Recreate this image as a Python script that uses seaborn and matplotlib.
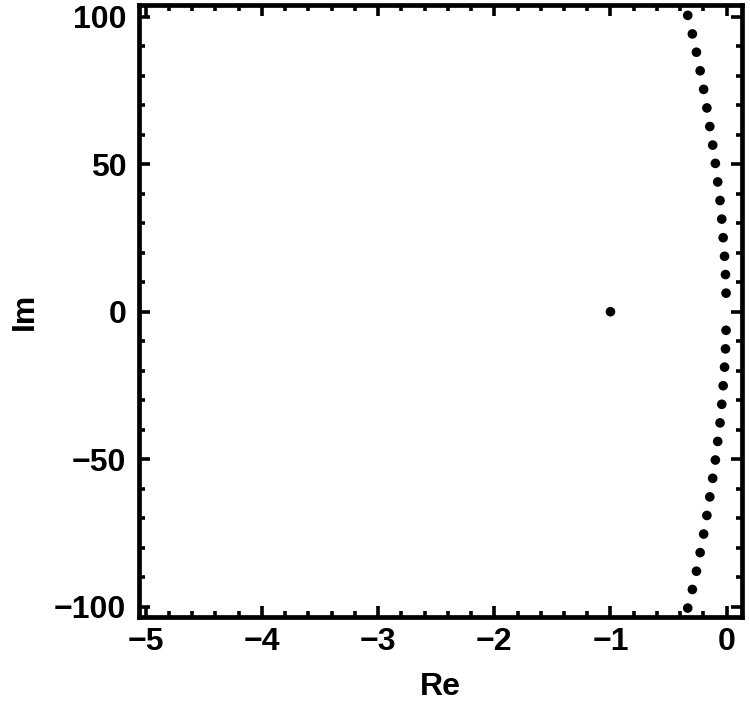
import matplotlib
matplotlib.use("Agg")
import matplotlib.pyplot as plt
import seaborn as sns
import pandas as pd
from matplotlib.ticker import MultipleLocator

sns.set_theme(style="white")
plt.rcParams['font.family'] = ['Liberation Sans', 'DejaVu Sans']
plt.rcParams['font.weight'] = 'bold'
plt.rcParams['text.color'] = 'black'
plt.rcParams['axes.labelcolor'] = 'black'
plt.rcParams['xtick.color'] = 'black'
plt.rcParams['ytick.color'] = 'black'

# Upper branch (Im > 0)
im_upper = [6.3, 12.6, 18.8, 25.1, 31.4, 37.7, 44.0, 50.3, 56.5, 62.8, 69.1, 75.4, 81.7, 88.0, 94.2, 100.5]
re_upper = [-0.005, -0.010, -0.018, -0.030, -0.042, -0.057, -0.077, -0.097, -0.120, -0.145, -0.170, -0.198, -0.228, -0.260, -0.295, -0.335]
# Lower branch (mirror)
im_lower = [-6.3, -12.6, -18.8, -25.1, -31.4, -37.7, -44.0, -50.3, -56.5, -62.8, -69.1, -75.4, -81.7, -88.0, -94.2, -100.5]
re_lower = [-0.005, -0.010, -0.018, -0.030, -0.042, -0.057, -0.077, -0.097, -0.120, -0.145, -0.170, -0.198, -0.228, -0.260, -0.295, -0.335]
# Isolated real point
re_single = [-1.0]
im_single = [0.0]

df = pd.DataFrame({
    "Re": re_upper + re_lower + re_single,
    "Im": im_upper + im_lower + im_single,
})

fig = plt.figure(figsize=(7.5, 7.19), dpi=100)
ax = fig.add_axes([0.185, 0.142, 0.804, 0.851])
sns.scatterplot(data=df, x="Re", y="Im", ax=ax, color="black", s=48,
                edgecolor="none", linewidth=0)

ax.set_xlim(-5.06, 0.13)
ax.set_ylim(-103.5, 104.0)
ax.set_xticks([-5, -4, -3, -2, -1, 0])
ax.set_yticks([-100, -50, 0, 50, 100])
ax.set_xticklabels(["\u22125", "\u22124", "\u22123", "\u22122", "\u22121", "0"])
ax.set_yticklabels(["\u2212100", "\u221250", "0", "50", "100"])
ax.xaxis.set_minor_locator(MultipleLocator(0.2))
ax.yaxis.set_minor_locator(MultipleLocator(10))

ax.tick_params(which="both", direction="in", top=True, right=True,
               bottom=True, left=True, color="black", width=2.6)
ax.tick_params(which="major", length=8, labelsize=23)
ax.tick_params(axis="x", which="major", pad=7)
ax.tick_params(axis="y", which="major", pad=9)
ax.tick_params(which="minor", length=4)
for lab in ax.get_xticklabels() + ax.get_yticklabels():
    lab.set_fontweight("bold")
    lab.set_color("black")

for sp in ax.spines.values():
    sp.set_visible(True)
    sp.set_color("black")
    sp.set_linewidth(3.4)

ax.set_xlabel("Re", fontsize=23, fontweight="bold", labelpad=11, color="black")
ax.set_ylabel("Im", fontsize=23, fontweight="bold", labelpad=10, color="black")
ax.grid(False)

fig.savefig("out.png", dpi=100, facecolor="white")
